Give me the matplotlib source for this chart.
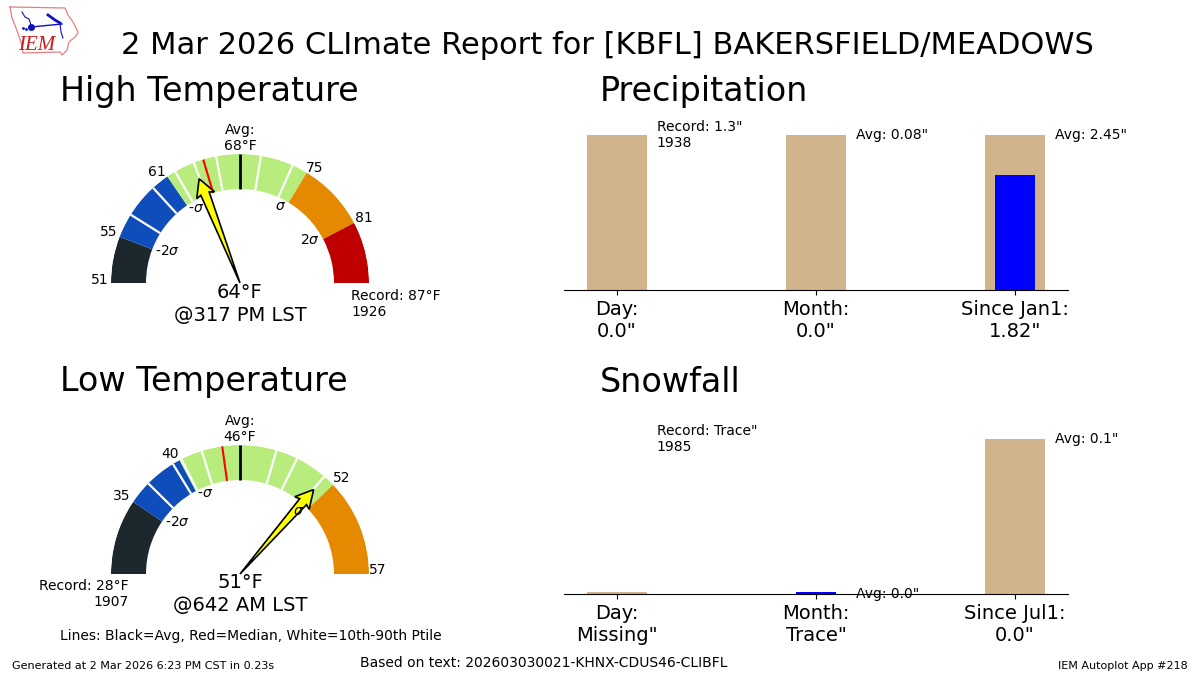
import numpy as np
import matplotlib
matplotlib.use("Agg")
import matplotlib.pyplot as plt
from matplotlib.patches import Polygon
from matplotlib.transforms import Affine2D

W, H = 1200, 675

# ---- gauge data (degF) ----
high_scale_vals = [51, 55, 61, 64, 68, 75, 81, 87]
high_scale_degs = [0, 21, 55.7, 68.6, 90, 121.2, 152.2, 180]
high_whites = [56.9, 59.6, 61.95, 64.07, 66.0, 70.1, 73.4]
high_avg, high_median, high_obs = 68, 64.9, 64

low_scale_vals = [28, 35, 40, 46, 51, 52, 57]
low_scale_degs = [0, 34, 62.0, 90, 131.1, 136.2, 180]
low_whites = [36.9, 39.4, 40.2, 42.3, 48.0, 49.2, 50.97]
low_avg, low_median, low_obs = 46, 44.3, 51

band_colors = ["#1c282e", "#0f4dba", "#b8ec7c", "#e58a00", "#bf0000"]
high_bands = [51, 55, 61, 75, 81, 87]
low_bands = [28, 35, 40, 52, 57, 57]

# ---- bar data (inches) ----
precip_labels = ['Day:\n0.0"', 'Month:\n0.0"', 'Since Jan1:\n1.82"']
precip_climo = [1.3, 0.08, 2.45]
precip_obs = [0.0, 0.0, 1.82]
precip_norm = [1.3, 0.08, 2.45]
precip_notes = ['Record: 1.3"\n1938', 'Avg: 0.08"', 'Avg: 2.45"']
precip_note_levels = [1.0, 1.0, 1.0]

snow_labels = ['Day:\nMissing"', 'Month:\nTrace"', 'Since Jul1:\n0.0"']
snow_climo = [0.0013, 0.0, 0.1]
snow_obs = [0.0, 0.0013, 0.0]
snow_norm = [0.1, 0.1, 0.1]
snow_notes = ['Record: Trace"\n1985', 'Avg: 0.0"', 'Avg: 0.1"']
snow_note_levels = [1.0, 0.0, 1.0]

fig = plt.figure(figsize=(12, 6.75), dpi=100)


def ftext(px, py, s, **kw):
    kw.setdefault("va", "center")
    kw.setdefault("ha", "left")
    fig.text(px / W, 1 - py / H, s, **kw)


def gauge(cy, svals, sdegs, bands, whites, avg, median, obs):
    cx, R, r0 = 240, 129, 94
    ax = fig.add_axes([(cx - R) / W, (H - cy - R) / H, 2 * R / W, 2 * R / H], polar=True)
    ax.set_ylim(0, R)
    ax.axis("off")

    def th(v):
        return np.radians(180 - np.interp(v, svals, sdegs))

    for lo, hi, c in zip(bands[:-1], bands[1:], band_colors):
        if hi > lo:
            ax.bar((th(lo) + th(hi)) / 2, R - r0, width=th(lo) - th(hi),
                   bottom=r0, color=c, linewidth=0)
    for v in whites:
        ax.plot([th(v)] * 2, [r0, R], color="white", lw=1.6, solid_capstyle="butt")
    ax.plot([th(median)] * 2, [r0, R], color="red", lw=1.5, solid_capstyle="butt")
    ax.plot([th(avg)] * 2, [r0, R], color="black", lw=2, solid_capstyle="butt")
    # tapered needle from the gauge centre to the observed value
    L = 112
    shape = [(L, 0), (L - 17.7, 9.5), (L - 16, 4.5), (0, 0), (L - 16, -4.5), (L - 17.7, -9.5)]
    tr = Affine2D().rotate(th(obs)).translate(cx, H - cy)
    ax.add_patch(Polygon(shape, closed=True, transform=tr, fc="yellow", ec="black",
                         lw=1.2, clip_on=False, zorder=5))


gauge(283, high_scale_vals, high_scale_degs, high_bands, high_whites,
      high_avg, high_median, high_obs)
gauge(574, low_scale_vals, low_scale_degs, low_bands, low_whites,
      low_avg, low_median, low_obs)


def bars(bottom_py, labels, climo, obs, norm, notes, levels):
    ax = fig.add_axes([564 / W, (H - bottom_py) / H, 504 / W, 155 / H])
    x = np.arange(3)
    c = np.array(climo) / np.array(norm)
    o = np.array(obs) / np.array(norm)
    ax.bar(x, c, width=0.3, color="tan")
    ax.bar(x, o, width=0.2, color="blue")
    ax.set_xlim(-0.2663, 2.2663)
    ax.set_ylim(0, 1)
    ax.set_yticks([])
    ax.set_xticks(x)
    ax.set_xticklabels(labels, fontsize=14)
    for s in ("top", "left", "right"):
        ax.spines[s].set_visible(False)
    ax.patch.set_alpha(0)
    for i, (n, lv) in enumerate(zip(notes, levels)):
        ax.text(i + 0.2, lv, n, fontsize=10, va="center", ha="left", clip_on=False)


bars(290, precip_labels, precip_climo, precip_obs, precip_norm, precip_notes, precip_note_levels)
bars(594, snow_labels, snow_climo, snow_obs, snow_norm, snow_notes, snow_note_levels)

# ---- titles ----
ftext(607.5, 46, "2 Mar 2026 CLImate Report for [KBFL] BAKERSFIELD/MEADOWS", fontsize=22, ha="center")
ftext(60, 92, "High Temperature", fontsize=24)
ftext(60, 382, "Low Temperature", fontsize=24)
ftext(600, 92, "Precipitation", fontsize=24)
ftext(600, 383, "Snowfall", fontsize=24)

# ---- gauge labels ----
for px, py, s in [(100, 280, "51"), (109, 232, "55"), (157, 172, "61"), (315, 168, "75"), (364, 218, "81"),
                  (122, 496, "35"), (170, 454, "40"), (342, 478, "52"), (378, 570, "57")]:
    ftext(px, py, s, fontsize=10, ha="center")
for px, py, s in [(167, 251, r"-2$\sigma$"), (196, 208, r"-$\sigma$"), (281, 206, r"$\sigma$"), (310, 240, r"2$\sigma$"),
                  (177, 522, r"-2$\sigma$"), (205, 493, r"-$\sigma$"), (299, 511, r"$\sigma$")]:
    ftext(px, py, s, fontsize=10, ha="center")
ftext(240, 138, "Avg:\n68°F", fontsize=10, ha="center", multialignment="center")
ftext(240, 429, "Avg:\n46°F", fontsize=10, ha="center", multialignment="center")
ftext(240, 292, "64°F", fontsize=14, ha="center")
ftext(240, 315, "@317 PM LST", fontsize=14, ha="center")
ftext(240, 583, "51°F", fontsize=14, ha="center")
ftext(240, 605, "@642 AM LST", fontsize=14, ha="center")
ftext(351, 304, "Record: 87°F\n1926", fontsize=10)
ftext(129, 594, "Record: 28°F\n1907", fontsize=10, ha="right", multialignment="right")

# ---- footers ----
ftext(60, 636, "Lines: Black=Avg, Red=Median, White=10th-90th Ptile", fontsize=10)
ftext(12, 666, "Generated at 2 Mar 2026 6:23 PM CST in 0.23s", fontsize=8)
ftext(360, 663, "Based on text: 202603030021-KHNX-CDUS46-CLIBFL", fontsize=10)
ftext(1188, 666, "IEM Autoplot App #218", fontsize=8, ha="right")

# ---- logo ----
lg = fig.add_axes([0, (H - 65) / H, 100 / W, 65 / H])
lg.set_xlim(0, 100)
lg.set_ylim(65, 0)
lg.axis("off")
outline_x = [10, 65, 68, 73, 78, 76, 69, 67, 62, 60, 23, 21, 16, 12, 10]
outline_y = [7, 8, 15, 22, 32, 36, 42, 50, 55, 52, 53, 42, 28, 18, 7]
lg.plot(outline_x, outline_y, color="#e58080", lw=0.9)
lg.plot([31, 62], [27, 24], color="#1010c0", lw=1)
lg.plot([31], [27], "o", color="#1010c0", ms=4)
lg.plot([22, 25, 29, 31], [12, 17, 19, 25], color="#1010c0", lw=0.8)
lg.plot([48, 55, 60], [15, 20, 23], color="#1010c0", lw=2)
lg.plot([60, 61, 63], [23, 32, 38], color="#1010c0", lw=0.8)
lg.plot([23, 26], [28, 29], ".", color="#1010c0", ms=2)
lg.text(37, 46, "IEM", color="#d01818", fontsize=15, family="Liberation Serif", style="italic",
        ha="center", va="center")

fig.savefig("out.png", dpi=100)
